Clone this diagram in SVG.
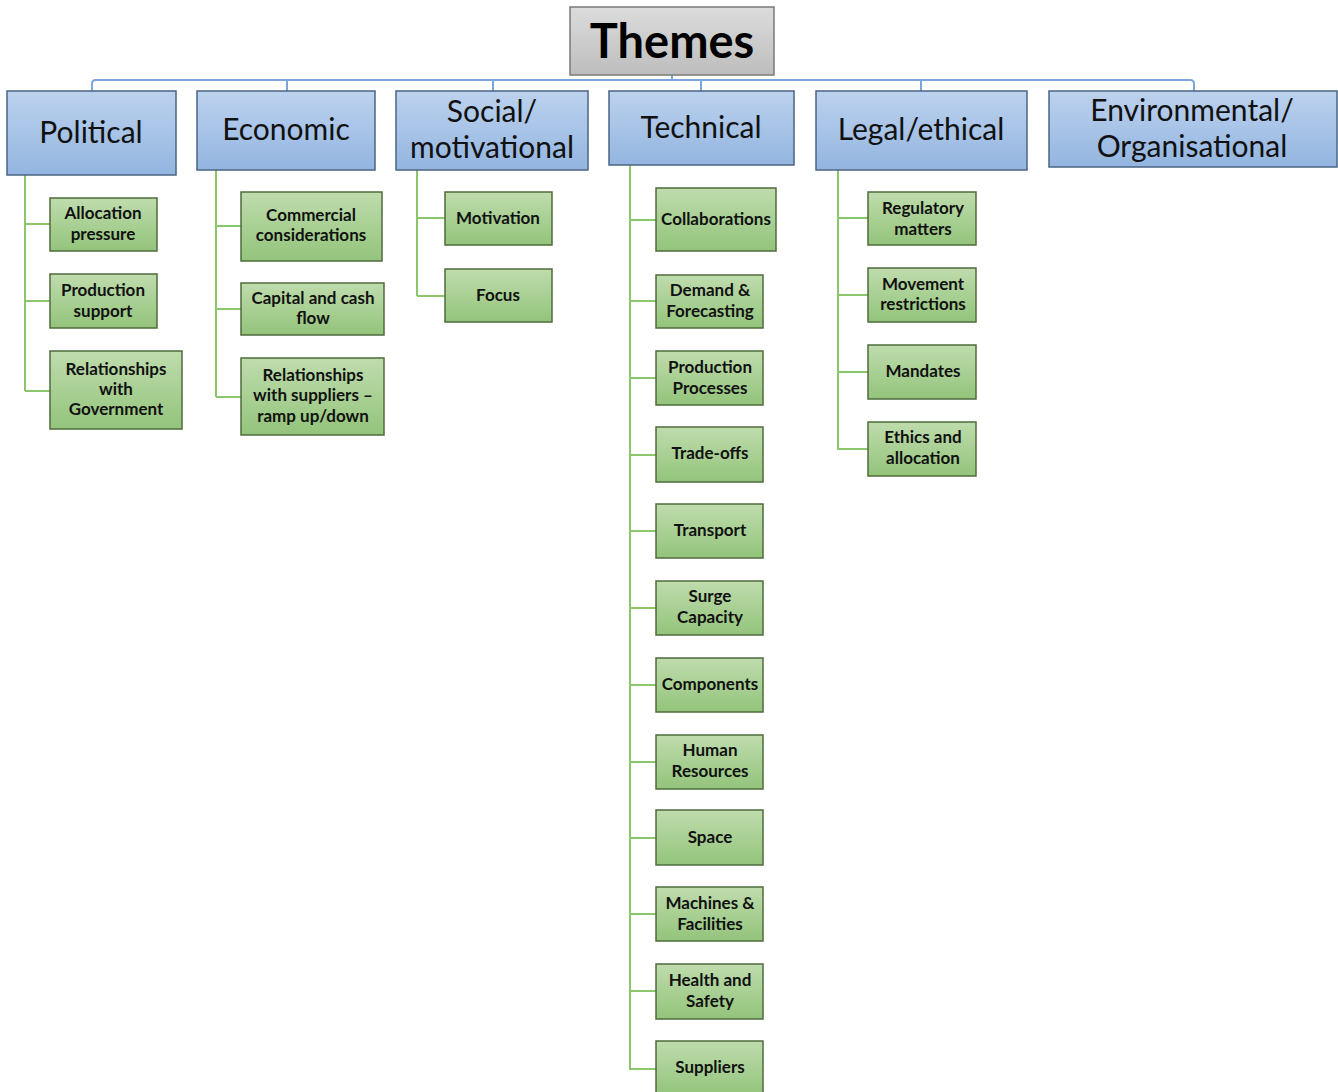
<svg xmlns="http://www.w3.org/2000/svg" width="1338" height="1092" viewBox="0 0 1338 1092">
<defs>
<linearGradient id="gGray" x1="0" y1="0" x2="0" y2="1"><stop offset="0" stop-color="#dcdcdc"/><stop offset="1" stop-color="#bdbdbd"/></linearGradient>
<linearGradient id="gBlue" x1="0" y1="0" x2="0" y2="1"><stop offset="0" stop-color="#bcd2ee"/><stop offset="1" stop-color="#93b5e0"/></linearGradient>
<linearGradient id="gGreen" x1="0" y1="0" x2="0" y2="1"><stop offset="0" stop-color="#bfdcad"/><stop offset="1" stop-color="#93c47b"/></linearGradient>
</defs>
<style>
.root{fill:url(#gGray);stroke:#7a7a7a;stroke-width:1.5}
.top{fill:url(#gBlue);stroke:#4a6484;stroke-width:1.5}
.leaf{fill:url(#gGreen);stroke:#4f6b3c;stroke-width:1.5}
.bl{fill:none;stroke:#7ba7dc;stroke-width:2}
.gl{fill:none;stroke:#8cc66a;stroke-width:2}
.tr{font-family:Lato,"Open Sans",sans-serif;font-weight:bold;font-size:47px;fill:#000;text-anchor:middle}
.tt{font-family:Lato,"Open Sans",sans-serif;font-size:30px;fill:#111;text-anchor:middle}
.tl{font-family:Lato,"Open Sans",sans-serif;font-weight:bold;font-size:17px;fill:#111;text-anchor:middle}
</style>
<rect width="1338" height="1092" fill="#fff"/>
<g id="connectors">
<path class="bl" d="M672 75V80M92 91V84Q92 80 96 80H1190Q1194 80 1194 84V91M287 80V91M493 80V91M701 80V91M921 80V91"/>
<path class="gl" d="M25 175V391M25 224H50M25 301H50M25 391H50"/>
<path class="gl" d="M216 170V397M216 226H241M216 309H241M216 397H241"/>
<path class="gl" d="M417 170V296M417 218H445M417 296H445"/>
<path class="gl" d="M630 165V1069H656M630 220H656M630 301H656M630 378H656M630 455H656M630 531H656M630 608H656M630 685H656M630 762H656M630 838H656M630 914H656M630 991H656"/>
<path class="gl" d="M838 170V449H868M838 218H868M838 295H868M838 372H868"/>
</g>
<g id="themes"><rect class="root" x="570" y="7" width="204" height="68"/><text class="tr" x="672" y="58">Themes</text></g>
<g id="political"><rect class="top" x="7" y="91" width="169" height="84"/><text class="tt" x="91" y="143">Political</text></g>
<g id="economic"><rect class="top" x="197" y="91" width="178" height="79"/><text class="tt" x="286" y="140">Economic</text></g>
<g id="social"><rect class="top" x="396" y="91" width="192" height="79"/><text class="tt" x="492" y="122">Social/</text><text class="tt" x="492" y="158">motivational</text></g>
<g id="technical"><rect class="top" x="609" y="91" width="185" height="74"/><text class="tt" x="701" y="138">Technical</text></g>
<g id="legal"><rect class="top" x="816" y="91" width="211" height="79"/><text class="tt" x="921" y="140">Legal/ethical</text></g>
<g id="environmental"><rect class="top" x="1049" y="91" width="288" height="76"/><text class="tt" x="1192" y="121">Environmental/</text><text class="tt" x="1192" y="157">Organisational</text></g>

<g id="allocation-pressure"><rect class="leaf" x="50" y="198" width="107" height="53"/><text class="tl" x="103" y="219">Allocation</text><text class="tl" x="103" y="240">pressure</text></g>
<g id="production-support"><rect class="leaf" x="50" y="274" width="107" height="54"/><text class="tl" x="103" y="296">Production</text><text class="tl" x="103" y="317">support</text></g>
<g id="relationships-government"><rect class="leaf" x="50" y="351" width="132" height="78"/><text class="tl" x="116" y="375">Relationships</text><text class="tl" x="116" y="395">with</text><text class="tl" x="116" y="415">Government</text></g>

<g id="commercial"><rect class="leaf" x="241" y="192" width="141" height="69"/><text class="tl" x="311" y="221">Commercial</text><text class="tl" x="311" y="241">considerations</text></g>
<g id="capital"><rect class="leaf" x="241" y="283" width="143" height="52"/><text class="tl" x="313" y="304">Capital and cash</text><text class="tl" x="313" y="324">flow</text></g>
<g id="relationships-suppliers"><rect class="leaf" x="241" y="358" width="143" height="77"/><text class="tl" x="313" y="381">Relationships</text><text class="tl" x="313" y="401">with suppliers –</text><text class="tl" x="313" y="422">ramp up/down</text></g>

<g id="motivation"><rect class="leaf" x="445" y="192" width="107" height="53"/><text class="tl" x="498" y="224">Motivation</text></g>
<g id="focus"><rect class="leaf" x="445" y="269" width="107" height="53"/><text class="tl" x="498" y="301">Focus</text></g>

<g id="collaborations"><rect class="leaf" x="656" y="188" width="120" height="63"/><text class="tl" x="716" y="225">Collaborations</text></g>
<g id="demand"><rect class="leaf" x="656" y="275" width="107" height="53"/><text class="tl" x="710" y="296">Demand &amp;</text><text class="tl" x="710" y="317">Forecasting</text></g>
<g id="production-processes"><rect class="leaf" x="656" y="351" width="107" height="54"/><text class="tl" x="710" y="373">Production</text><text class="tl" x="710" y="394">Processes</text></g>
<g id="trade-offs"><rect class="leaf" x="656" y="427" width="107" height="55"/><text class="tl" x="710" y="459">Trade-offs</text></g>
<g id="transport"><rect class="leaf" x="656" y="504" width="107" height="54"/><text class="tl" x="710" y="536">Transport</text></g>
<g id="surge"><rect class="leaf" x="656" y="581" width="107" height="54"/><text class="tl" x="710" y="602">Surge</text><text class="tl" x="710" y="623">Capacity</text></g>
<g id="components"><rect class="leaf" x="656" y="658" width="107" height="54"/><text class="tl" x="710" y="690">Components</text></g>
<g id="human-resources"><rect class="leaf" x="656" y="735" width="107" height="54"/><text class="tl" x="710" y="756">Human</text><text class="tl" x="710" y="777">Resources</text></g>
<g id="space"><rect class="leaf" x="656" y="810" width="107" height="55"/><text class="tl" x="710" y="843">Space</text></g>
<g id="machines"><rect class="leaf" x="656" y="887" width="107" height="54"/><text class="tl" x="710" y="909">Machines &amp;</text><text class="tl" x="710" y="930">Facilities</text></g>
<g id="health"><rect class="leaf" x="656" y="964" width="107" height="55"/><text class="tl" x="710" y="986">Health and</text><text class="tl" x="710" y="1007">Safety</text></g>
<g id="suppliers"><rect class="leaf" x="656" y="1041" width="107" height="54"/><text class="tl" x="710" y="1073">Suppliers</text></g>

<g id="regulatory"><rect class="leaf" x="868" y="192" width="108" height="53"/><text class="tl" x="923" y="214">Regulatory</text><text class="tl" x="923" y="235">matters</text></g>
<g id="movement"><rect class="leaf" x="868" y="268" width="108" height="54"/><text class="tl" x="923" y="290">Movement</text><text class="tl" x="923" y="310">restrictions</text></g>
<g id="mandates"><rect class="leaf" x="868" y="345" width="108" height="54"/><text class="tl" x="923" y="377">Mandates</text></g>
<g id="ethics"><rect class="leaf" x="868" y="422" width="108" height="54"/><text class="tl" x="923" y="443">Ethics and</text><text class="tl" x="923" y="464">allocation</text></g>
</svg>
